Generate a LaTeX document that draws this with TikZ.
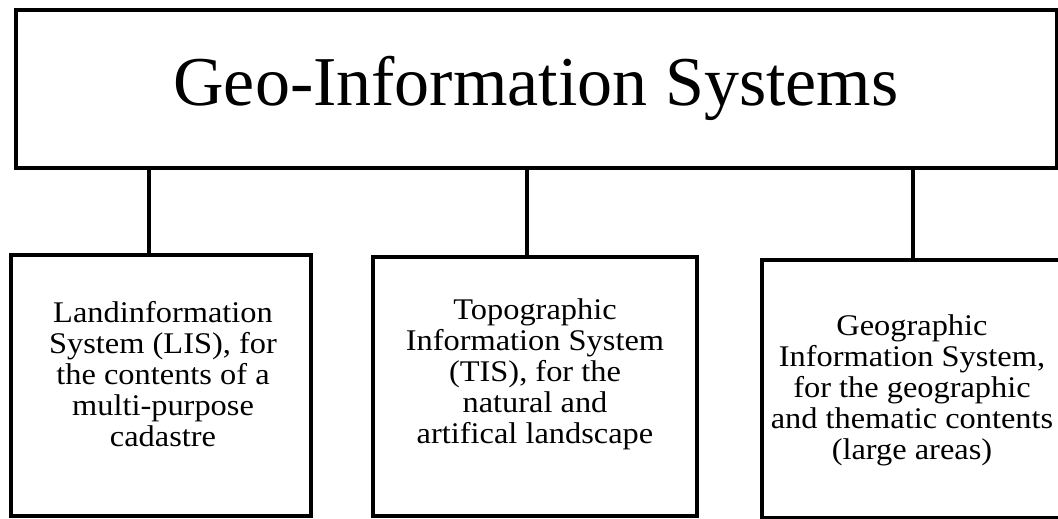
\documentclass[tikz,border=0pt]{standalone}
\usepackage{fontspec}
\setmainfont{Liberation Serif}
\newfontfamily\bodyfont[FakeStretch=1.08]{Liberation Serif}
\begin{document}
\begin{tikzpicture}[x=1pt,y=-1pt,
  frame/.style={draw=black,line width=3.3pt,rectangle,inner sep=0pt},
  link/.style={draw=black,line width=3.3pt},
  title/.style={font=\fontsize{70}{84}\selectfont,inner sep=0pt,anchor=base},
  body/.style={font=\bodyfont\fontsize{30}{31}\selectfont,align=center,inner sep=0pt}]
\useasboundingbox (0,0) rectangle (1058,519);
\clip (0,0) rectangle (1058,519);
\fill[white] (0,0) rectangle (1058,519);
% top box
\node[frame,minimum width=1041pt,minimum height=158pt] (top) at (536.5,89) {};
\node[title] (ttl) at (536,105) {Geo-Information Systems};
% lower boxes
\node[frame,minimum width=300pt,minimum height=261pt] (lis) at (161,385.5) {};
\node[frame,minimum width=324pt,minimum height=259pt] (tis) at (535,386.5) {};
\node[frame,minimum width=300pt,minimum height=258pt] (gis) at (912,389) {};
\node[body] (tlis) at (163,374) {Landinformation\\System (LIS), for\\the contents of a\\multi-purpose\\cadastre};
\node[body] (ttis) at (535,374) {Topographic\\Information System\\(TIS), for the\\natural and\\artifical landscape};
\node[body] (tgis) at (912,390) {Geographic\\Information System,\\for the geographic\\and thematic contents\\(large areas)};
% connectors
\coordinate (c1) at (149,255);
\coordinate (c2) at (527,257);
\coordinate (c3) at (913,260);
\draw[link] (c1 |- top.south) -- (c1);
\draw[link] (c2 |- top.south) -- (c2);
\draw[link] (c3 |- top.south) -- (c3);
\end{tikzpicture}
\end{document}
